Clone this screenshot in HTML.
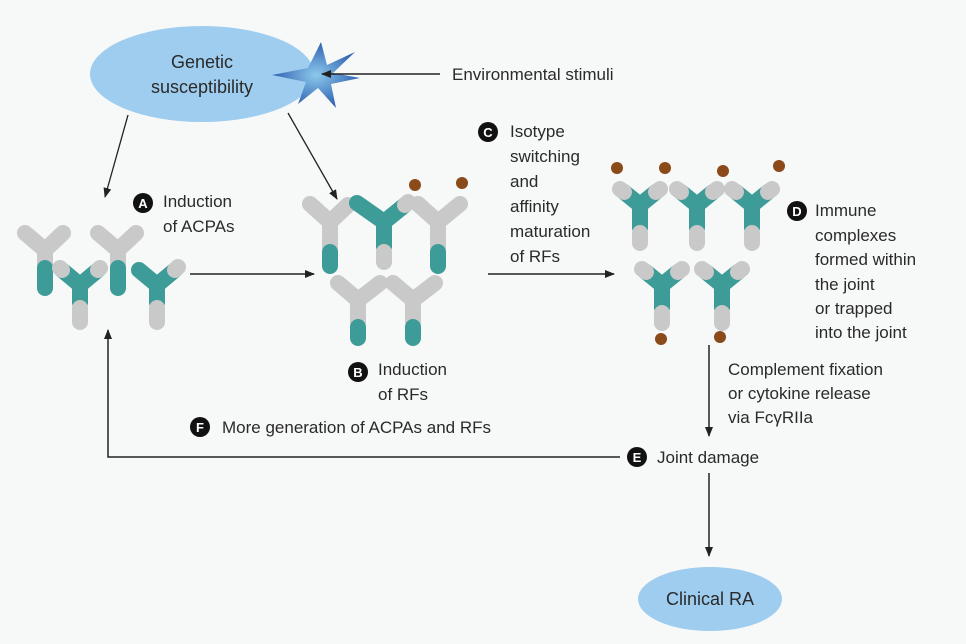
<!DOCTYPE html>
<html><head><style>
html,body{margin:0;padding:0;background:#f7f8f8;}
svg{display:block;}
text{font-family:"Liberation Sans",sans-serif;font-size:17px;fill:#2a2a2a;}
.b{font-size:13px;font-weight:bold;fill:#fff;text-anchor:middle;}
.e{font-size:18px;}
</style></head><body>
<svg width="966" height="644" viewBox="0 0 966 644" xmlns="http://www.w3.org/2000/svg">
<defs>
<marker id="ar" markerWidth="10" markerHeight="8" refX="9" refY="4" orient="auto" markerUnits="userSpaceOnUse"><path d="M0,0 L10,4 L0,8 z" fill="#222"/></marker>
<radialGradient id="st" cx="0.5" cy="0.5" r="0.5"><stop offset="0" stop-color="#8cc8ec"/><stop offset="1" stop-color="#2f62b0"/></radialGradient>
</defs>
<rect width="966" height="644" fill="#f7f8f8"/>
<ellipse cx="202" cy="74" rx="112" ry="48" fill="#9fcdef"/>
<text class="e" x="202" y="68" text-anchor="middle">Genetic</text>
<text class="e" x="202" y="93" text-anchor="middle">susceptibility</text>
<polygon points="321,42 327,65 355,52 333,73 360,78 331,84 336,108 318,88 298,104 306,82 272,75 308,68" fill="url(#st)"/>
<line x1="440" y1="74" x2="322" y2="74" stroke="#222" stroke-width="1.5" marker-end="url(#ar)"/>
<text x="452" y="80">Environmental stimuli</text>
<line x1="128" y1="115" x2="105" y2="197" stroke="#222" stroke-width="1.3" marker-end="url(#ar)"/>
<line x1="288" y1="113" x2="337" y2="199" stroke="#222" stroke-width="1.3" marker-end="url(#ar)"/>
<g stroke-linecap="round" stroke-width="16" fill="none">
<path d="M45 250 L25 233 M45 250 L63 233 M45 250 L45 265" stroke="#c9c9c9"/><path d="M45 268 L45 288" stroke="#3d9c98"/>
<path d="M80 285 L62 270 M80 285 L98 270 M80 285 L80 303" stroke="#3d9c98"/><path d="M80 308 L80 322" stroke="#c9c9c9"/>
<path d="M62 270 L60 268 M98 270 L100 268" stroke="#c9c9c9"/>
<path d="M118 250 L98 233 M118 250 L136 233 M118 250 L118 265" stroke="#c9c9c9"/><path d="M118 268 L118 288" stroke="#3d9c98"/>
<path d="M157 285 L139 270 M157 285 L175 270 M157 285 L157 303" stroke="#3d9c98"/><path d="M157 308 L157 322" stroke="#c9c9c9"/><path d="M175 270 L178 267" stroke="#c9c9c9"/>
<path d="M330 222 L310 204 M330 222 L348 205 M330 222 L330 248" stroke="#c9c9c9"/><path d="M330 252 L330 266" stroke="#3d9c98"/>
<path d="M384 222 L357 203 M384 222 L405 205 M384 222 L384 247" stroke="#3d9c98"/><path d="M384 252 L384 262" stroke="#c9c9c9"/><path d="M405 205 L408 202" stroke="#c9c9c9"/>
<path d="M438 222 L418 204 M438 222 L460 204 M438 222 L438 248" stroke="#c9c9c9"/><path d="M438 252 L438 266" stroke="#3d9c98"/>
<path d="M358 300 L338 283 M358 300 L380 283 M358 300 L358 322" stroke="#c9c9c9"/><path d="M358 327 L358 338" stroke="#3d9c98"/>
<path d="M413 300 L393 283 M413 300 L435 283 M413 300 L413 322" stroke="#c9c9c9"/><path d="M413 327 L413 338" stroke="#3d9c98"/>
<g id="rb">
<path d="M640 205 L624 192 M640 205 L656 192 M640 205 L640 228" stroke="#3d9c98"/><path d="M624 192 L620 189 M656 192 L660 189 M640 233 L640 243" stroke="#c9c9c9"/>
</g>
<use href="#rb" x="57"/><use href="#rb" x="112"/><use href="#rb" x="22" y="80"/><use href="#rb" x="82" y="80"/>
</g>
<g fill="#8a4a1a">
<circle cx="415" cy="185" r="6"/><circle cx="462" cy="183" r="6"/>
<circle cx="617" cy="168" r="6"/><circle cx="665" cy="168" r="6"/><circle cx="723" cy="171" r="6"/><circle cx="779" cy="166" r="6"/>
<circle cx="661" cy="339" r="6"/><circle cx="720" cy="337" r="6"/>
</g>
<line x1="190" y1="274" x2="314" y2="274" stroke="#222" stroke-width="1.5" marker-end="url(#ar)"/>
<line x1="488" y1="274" x2="614" y2="274" stroke="#222" stroke-width="1.5" marker-end="url(#ar)"/>
<circle cx="143" cy="203" r="10" fill="#111"/><text class="b" x="143" y="208">A</text>
<text x="163" y="207">Induction</text><text x="163" y="232">of ACPAs</text>
<circle cx="358" cy="372" r="10" fill="#111"/><text class="b" x="358" y="377">B</text>
<text x="378" y="375">Induction</text><text x="378" y="400">of RFs</text>
<circle cx="488" cy="132" r="10" fill="#111"/><text class="b" x="488" y="137">C</text>
<text x="510" y="137">Isotype</text><text x="510" y="162">switching</text><text x="510" y="187">and</text><text x="510" y="212">affinity</text><text x="510" y="237">maturation</text><text x="510" y="262">of RFs</text>
<circle cx="797" cy="211" r="10" fill="#111"/><text class="b" x="797" y="216">D</text>
<text x="815" y="216">Immune</text><text x="815" y="241">complexes</text><text x="815" y="265">formed within</text><text x="815" y="290">the joint</text><text x="815" y="314">or trapped</text><text x="815" y="338">into the joint</text>
<line x1="709" y1="345" x2="709" y2="436" stroke="#222" stroke-width="1.5" marker-end="url(#ar)"/>
<text x="728" y="375">Complement fixation</text><text x="728" y="399">or cytokine release</text><text x="728" y="423">via FcγRIIa</text>
<circle cx="637" cy="457" r="10" fill="#111"/><text class="b" x="637" y="462">E</text>
<text x="657" y="463">Joint damage</text>
<polyline points="620,457 108,457 108,330" fill="none" stroke="#222" stroke-width="1.5" marker-end="url(#ar)"/>
<circle cx="200" cy="427" r="10" fill="#111"/><text class="b" x="200" y="432">F</text>
<text x="222" y="433">More generation of ACPAs and RFs</text>
<line x1="709" y1="473" x2="709" y2="556" stroke="#222" stroke-width="1.5" marker-end="url(#ar)"/>
<ellipse cx="710" cy="599" rx="72" ry="32" fill="#9fcdef"/>
<text class="e" x="710" y="605" text-anchor="middle">Clinical RA</text>
</svg>
</body></html>
